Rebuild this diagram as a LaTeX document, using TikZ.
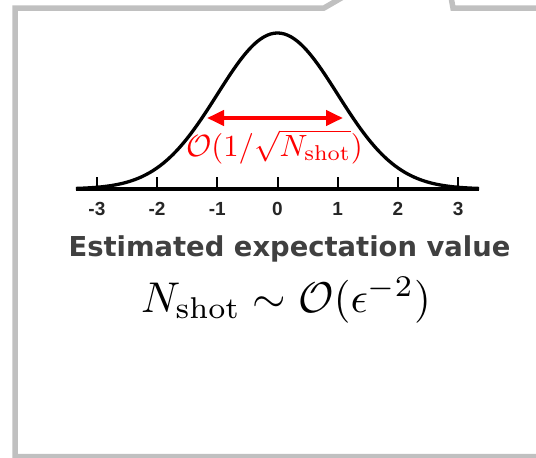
\documentclass[tikz,border=0pt]{standalone}
\usepackage{graphicx}
\usepackage{fontspec}
\newfontfamily\headfont{DejaVu Sans}
\newfontfamily\tickfont{Liberation Sans}
\usetikzlibrary{arrows.meta}
\definecolor{framegray}{HTML}{C0C0C0}
\definecolor{txtgray}{HTML}{404040}
\tikzset{
  frameline/.style={draw=framegray, line width=5.5pt},
  bell/.style={draw=black, line width=3.3pt},
  axisline/.style={draw=black, line width=3.5pt},
  tickline/.style={draw=black, line width=2pt},
  ticklabel/.style={font=\tickfont\bfseries\fontsize{19}{19}\selectfont, text=black!85, inner sep=0pt, anchor=base},
  sigarrow/.style={draw=red, line width=4pt, {Triangle[length=17pt,width=15pt]}-{Triangle[length=17pt,width=15pt]}},
}
\begin{document}
\begin{tikzpicture}[x=1pt,y=-1pt]
\useasboundingbox (0,0) rectangle (536,458);
\clip (0,0) rectangle (536,458);
% speech-bubble frame
\draw[frameline] (545,456.5) -- (15,456.5) -- (15,8) -- (324,8) -- (343,-3);
\draw[frameline] (451,-3) -- (453,8) -- (545,8);
% axis
\coordinate (axL) at (76,189);
\coordinate (axR) at (479,189);
\draw[axisline] (axL) -- (axR);
% bell curve
\draw[bell] plot[domain=-3.35:3.35, samples=121, smooth] ({277.5+60.2*\x},{189-156*exp(-\x*\x/2)});
% ticks
\foreach \k in {-3,...,3}{
  \coordinate (t\k) at ({277.5+60.2*\k},189);
  \draw[tickline] (t\k) -- ++(0,-12);
  \node[ticklabel] (lab\k) at ({277.5+60.2*\k},215) {\k};
}
% sigma arrow
\coordinate (aL) at (207,118);
\coordinate (aR) at (343,118);
\draw[sigarrow] (aL) -- (aR);
\node[text=red, inner sep=0pt, anchor=base] (sig) at (274.5,156) {\scalebox{3.07}{$\mathcal{O}(1/\sqrt{N_{\mathrm{shot}}})$}};
% heading
\node[text=txtgray, inner sep=0pt, anchor=base, font=\headfont\bfseries\fontsize{27.4}{27.4}\selectfont] (head) at (289.5,256) {Estimated expectation value};
% formula
\node[inner sep=0pt, anchor=base] (form) at (286,312) {\scalebox{4.3}{$N_{\mathrm{shot}}\sim\mathcal{O}(\epsilon^{-2})$}};
\end{tikzpicture}
\end{document}
